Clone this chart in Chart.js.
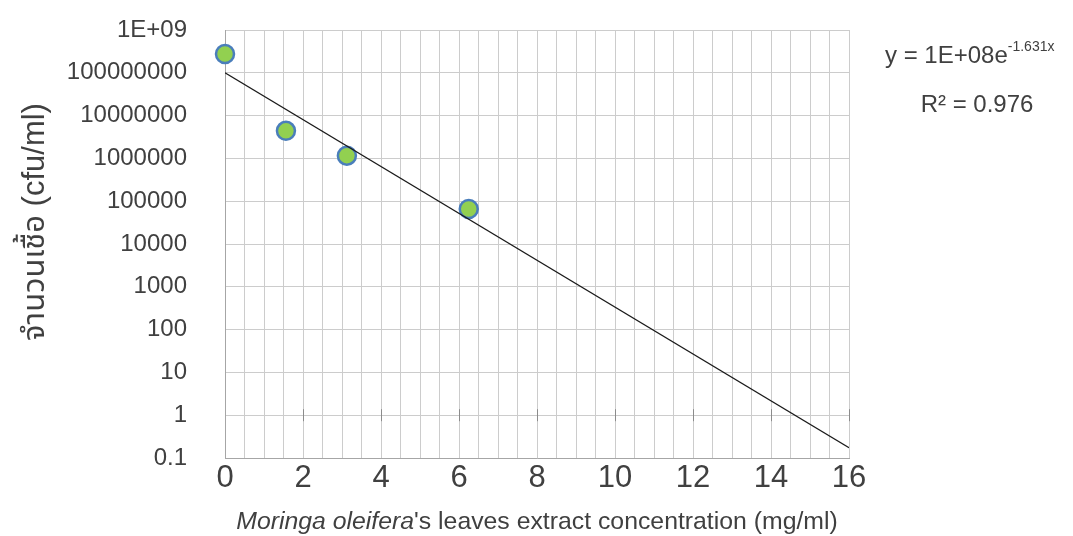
<!DOCTYPE html>
<html>
<head>
<meta charset="utf-8">
<script src="https://cdn.jsdelivr.net/npm/chart.js@4"></script>
<style>
  body { margin: 0; background: #fff; }
  #wrap { width: 1073px; height: 536px; }
</style>
</head>
<body>
<div id="wrap"><canvas id="myChart" width="1073" height="536"></canvas></div>
<script>
// data
const concentrations = [0, 1.5625, 3.125, 6.25];
const cfuCounts = [2.75e8, 4.4e6, 1.16e6, 6.6e4];
// trendline end points (as drawn)
const trendX = [0, 16];
const trendY = [1e8, 0.174];
const yTicks = [0.1, 1, 10, 100, 1000, 10000, 100000, 1000000, 10000000, 100000000, 1000000000];
const yTickLabels = ["0.1", "1", "10", "100", "1000", "10000", "100000", "1000000", "10000000", "100000000", "1E+09"];
const xTickLabels = [0, 2, 4, 6, 8, 10, 12, 14, 16];
const xTitleItalic = "Moringa oleifera";
const xTitleRest = "'s leaves extract concentration (mg/ml)";
const yTitle = "จำนวนเชื้อ (cfu/ml)";
const equationMain = "y = 1E+08e";
const equationSup = "-1.631x";
const rSquared = "R² = 0.976";

const FONT = '"Liberation Sans", Arial, sans-serif';
const textColor = "#404040";

const extras = {
  id: "extras",
  afterDatasetsDraw(chart) {
    const ctx = chart.ctx;
    const xs = chart.scales.x;
    const ys = chart.scales.y;
    // tick marks where the horizontal axis crosses (y = 1)
    const yOne = ys.getPixelForValue(1);
    ctx.save();
    ctx.strokeStyle = "#8c8c8c";
    ctx.lineWidth = 1;
    xTickLabels.forEach(v => {
      if (v === 0) return;
      const px = Math.round(xs.getPixelForValue(v)) + 0.5;
      ctx.beginPath();
      ctx.moveTo(px, yOne - 6);
      ctx.lineTo(px, yOne + 6);
      ctx.stroke();
    });
    ctx.restore();
  },
  afterDraw(chart) {
    const ctx = chart.ctx;
    const area = chart.chartArea;
    ctx.save();
    ctx.fillStyle = textColor;
    // y axis title
    ctx.save();
    ctx.translate(35, 222);
    ctx.rotate(-Math.PI / 2);
    ctx.font = '31px "Liberation Sans", "Noto Sans Thai", "Noto Sans", sans-serif';
    ctx.textAlign = "center";
    ctx.textBaseline = "middle";
    ctx.fillText(yTitle, 0, 0);
    ctx.restore();
    // x axis title, italic species name
    ctx.textBaseline = "middle";
    ctx.textAlign = "left";
    const fi = "italic 24.8px " + FONT;
    const fn = "24.8px " + FONT;
    ctx.font = fi;
    const w1 = ctx.measureText(xTitleItalic).width;
    ctx.font = fn;
    const w2 = ctx.measureText(xTitleRest).width;
    const x0 = (area.left + area.right) / 2 - (w1 + w2) / 2;
    ctx.font = fi;
    ctx.fillText(xTitleItalic, x0, 522);
    ctx.font = fn;
    ctx.fillText(xTitleRest, x0 + w1, 522);
    // equation
    ctx.textBaseline = "alphabetic";
    ctx.font = "24px " + FONT;
    ctx.fillText(equationMain, 885, 63);
    const w = ctx.measureText(equationMain).width;
    ctx.font = "14px " + FONT;
    ctx.fillText(equationSup, 885 + w, 51);
    ctx.font = "24px " + FONT;
    ctx.textAlign = "center";
    ctx.fillText(rSquared, 977, 112);
    ctx.restore();
  }
};

new Chart(document.getElementById("myChart"), {
  type: "scatter",
  data: {
    datasets: [
      {
        type: "line",
        data: trendX.map((x, i) => ({ x: x, y: trendY[i] })),
        borderColor: "#1a1a1a",
        borderWidth: 1.2,
        pointRadius: 0,
        fill: false,
        order: 0
      },
      {
        data: concentrations.map((x, i) => ({ x: x, y: cfuCounts[i] })),
        backgroundColor: "#92D050",
        borderColor: "#4A7EBB",
        borderWidth: 2.5,
        pointRadius: 9,
        pointHoverRadius: 9,
        clip: false,
        order: 1
      }
    ]
  },
  plugins: [extras],
  options: {
    responsive: false,
    animation: false,
    layout: { padding: { top: 30, right: 224, left: 0, bottom: 0 } },
    plugins: {
      legend: { display: false },
      tooltip: { enabled: false }
    },
    scales: {
      x: {
        type: "linear",
        min: 0,
        max: 16,
        afterFit: s => { s.height = 78; },
        grid: { color: "#cccccc", drawTicks: false },
        border: { color: "#a6a6a6" },
        ticks: {
          stepSize: 0.5,
          autoSkip: false,
          maxRotation: 0,
          padding: 2,
          color: textColor,
          font: { family: FONT, size: 31 },
          callback: v => (xTickLabels.includes(v) ? String(v) : "")
        }
      },
      y: {
        type: "logarithmic",
        min: 0.1,
        max: 1e9,
        afterFit: s => { s.width = 225; s.paddingTop = 0; s.paddingBottom = 0; },
        afterBuildTicks: s => { s.ticks = yTicks.map(v => ({ value: v })); },
        grid: { color: "#cccccc", drawTicks: false },
        border: { color: "#a6a6a6" },
        ticks: {
          padding: 38,
          color: textColor,
          font: { family: FONT, size: 24 },
          callback: v => yTickLabels[yTicks.indexOf(v)]
        }
      }
    }
  }
});
</script>
</body>
</html>
